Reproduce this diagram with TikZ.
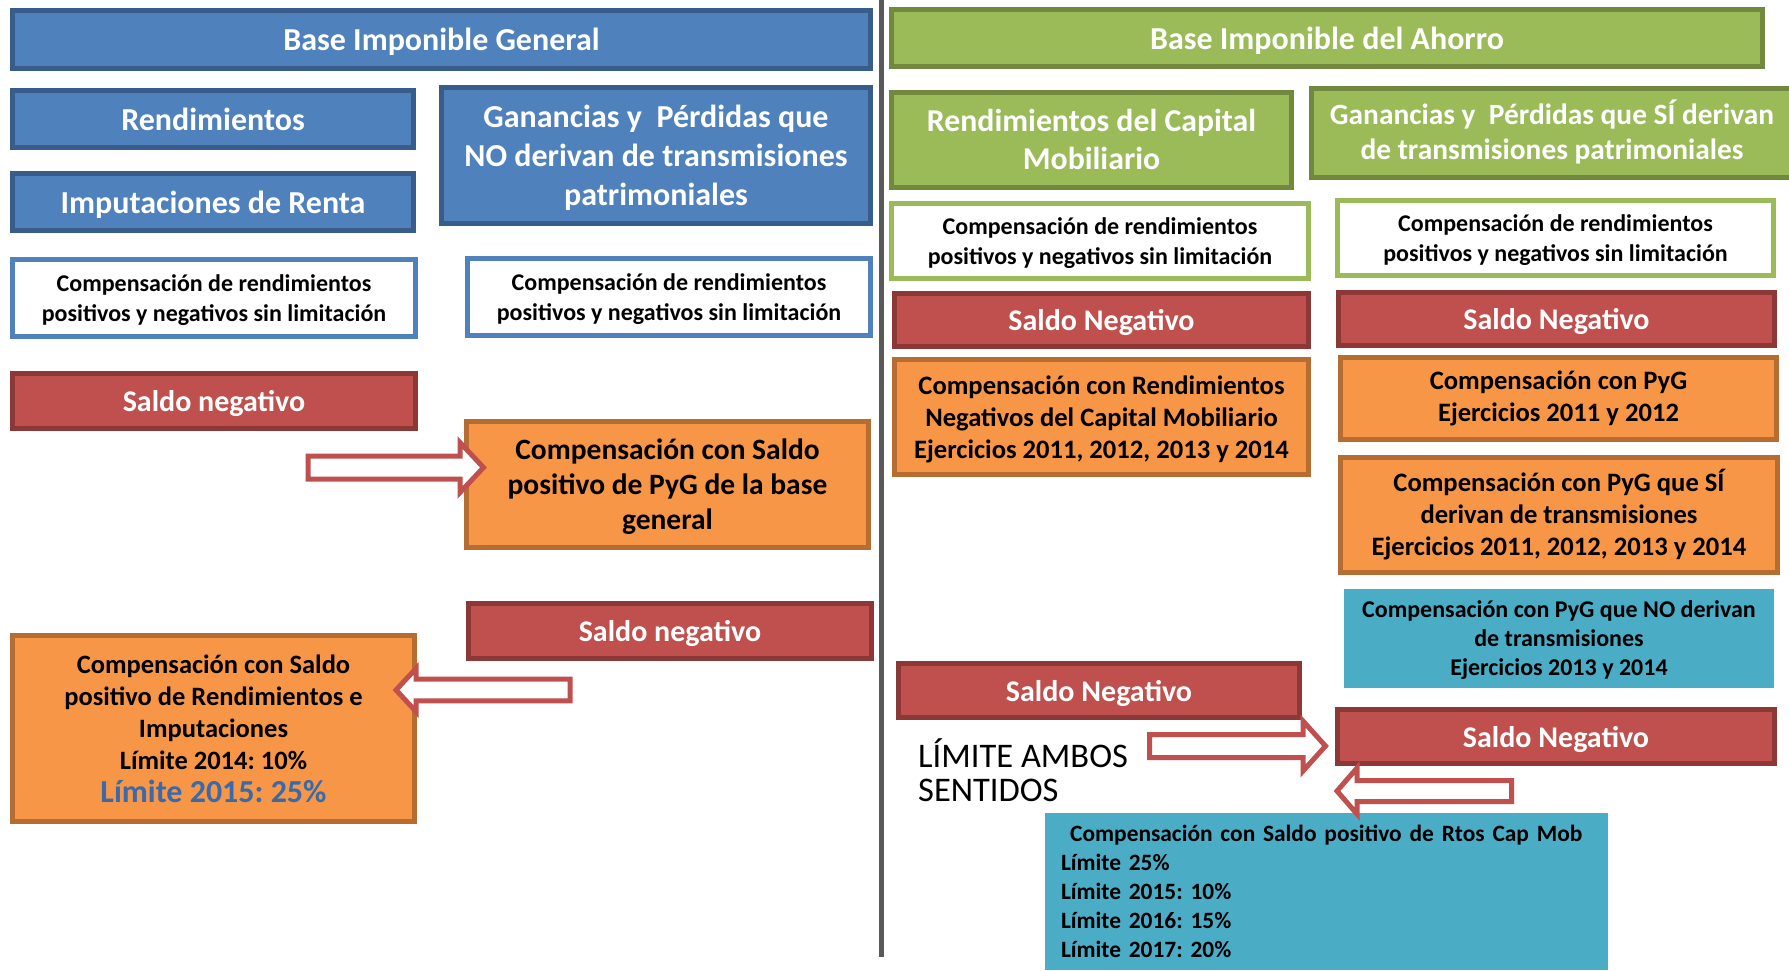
\documentclass[tikz,border=0pt]{standalone}
\usepackage{fontspec}
\setmainfont{Carlito}
\usetikzlibrary{shadows}
\definecolor{cblue}{HTML}{4F81BD}
\definecolor{cblueD}{HTML}{385D8A}
\definecolor{cgreen}{HTML}{9BBB59}
\definecolor{cgreenD}{HTML}{71893F}
\definecolor{cred}{HTML}{C0504D}
\definecolor{credD}{HTML}{8C3836}
\definecolor{corange}{HTML}{F79646}
\definecolor{corangeD}{HTML}{B66D31}
\definecolor{cteal}{HTML}{4BACC6}
\definecolor{csep}{HTML}{595959}
\definecolor{limblue}{RGB}{58,106,168}
\newcommand\fs[2]{\fontsize{#1}{#2}\selectfont}
\frenchspacing
\begin{document}
\begin{tikzpicture}[x=1pt,y=-1pt,
  bxbase/.style={rectangle, line width=5pt, inner sep=0pt, align=center},
  bx/.style={bxbase, text depth=0pt},
  bluebox/.style={bx, fill=cblue, draw=cblueD, text=white},
  greenbox/.style={bx, fill=cgreen, draw=cgreenD, text=white},
  redbox/.style={bx, fill=cred, draw=credD, text=white},
  orangebox/.style={bx, fill=corange, draw=corangeD, text=black},
  wbbox/.style={bx, fill=white, draw=cblue, text=black},
  wgbox/.style={bx, fill=white, draw=cgreen, text=black},
  tealbox/.style={bx, fill=cteal, draw=white, line width=8pt, text=black,
     drop shadow={opacity=0.25, shadow xshift=0pt, shadow yshift=-3pt}},
  tealbig/.style={bxbase, fill=cteal, draw=white, line width=8pt, text=black,
     drop shadow={opacity=0.25, shadow xshift=0pt, shadow yshift=-3pt}},
  blockarrow/.style={draw=cred, fill=white, line width=5pt, line join=miter},
  sepline/.style={draw=csep, line width=5pt},
  big/.style={font=\bfseries\fs{32}{39}},
  comp/.style={font=\bfseries\fs{24}{30}},
  saldo/.style={font=\bfseries\fs{30}{36}},
  ortext/.style={font=\bfseries\fs{26.6}{32}}
]
\useasboundingbox (0,0) rectangle (1789,970);
\clip (0,0) rectangle (1789,970);

% separator
\coordinate (sepTop) at (881.5,0);
\coordinate (sepBot) at (881.5,957);
\draw[sepline] (sepTop) -- (sepBot);

% ---------------- left: Base Imponible General
\node[bluebox, big, minimum width=858, minimum height=58] (bigG) at (441.5,39.5) {Base Imponible General};
\node[bluebox, big, minimum width=401, minimum height=57] (rend) at (213,119) {Rendimientos};
\node[bluebox, big, minimum width=401, minimum height=57] (imput) at (213,202) {Imputaciones de Renta};
\node[bluebox, big, minimum width=429, minimum height=136] (ganNO) at (656,155.5)
  {Ganancias y~ Pérdidas que\\NO derivan de transmisiones\\patrimoniales};
\node[wbbox, comp, minimum width=403, minimum height=77] (compL) at (214,298)
  {Compensación de rendimientos\\positivos y negativos sin limitación};
\node[wbbox, comp, minimum width=403, minimum height=77] (compR) at (669,297)
  {Compensación de rendimientos\\positivos y negativos sin limitación};
\node[redbox, saldo, minimum width=403, minimum height=55] (saldoL) at (214,401) {Saldo negativo};
\node[orangebox, font=\bfseries\fs{29.5}{35}, minimum width=402, minimum height=126] (orPyG) at (667.5,484.5)
  {Compensación con Saldo\\positivo de PyG de la base\\general};
\node[redbox, saldo, minimum width=403, minimum height=55] (saldoR) at (670,631) {Saldo negativo};
\node[orangebox, font=\bfseries\fs{26.5}{32}, minimum width=402, minimum height=186] (orRend) at (213.5,728.5)
  {Compensación con Saldo\\positivo de Rendimientos e\\Imputaciones\\Límite 2014: 10\%\\[1pt]{\color{limblue}\fs{32}{34}Límite 2015: 25\%}};

% ---------------- right: Base Imponible del Ahorro
\node[greenbox, big, minimum width=871, minimum height=57] (bigA) at (1327,38) {Base Imponible del Ahorro};
\node[greenbox, font=\bfseries\fs{31.8}{38}, minimum width=400, minimum height=95] (rcm) at (1091.5,139.5)
  {Rendimientos del Capital\\Mobiliario};
\node[greenbox, font=\bfseries\fs{29.4}{35}, text depth=7.3pt, minimum width=481, minimum height=89] (ganSI) at (1552,133)
  {Ganancias y~ Pérdidas que SÍ derivan\\de transmisiones patrimoniales};
\node[wgbox, comp, minimum width=417, minimum height=75] (compG1) at (1100,241)
  {Compensación de rendimientos\\positivos y negativos sin limitación};
\node[wgbox, comp, minimum width=436, minimum height=75] (compG2) at (1555.5,238)
  {Compensación de rendimientos\\positivos y negativos sin limitación};
\node[redbox, saldo, minimum width=414, minimum height=53] (sn1) at (1101.5,320) {Saldo Negativo};
\node[redbox, saldo, minimum width=436, minimum height=53] (sn2) at (1556.5,319) {Saldo Negativo};
\node[orangebox, ortext, minimum width=414, minimum height=115] (orRCM) at (1101.5,417)
  {Compensación con Rendimientos\\Negativos del Capital Mobiliario\\Ejercicios 2011, 2012, 2013 y 2014};
\node[orangebox, ortext, text depth=5.3pt, minimum width=436, minimum height=82] (orPyG1) at (1558.5,398.5)
  {Compensación con PyG\\Ejercicios 2011 y 2012};
\node[orangebox, ortext, text depth=5.3pt, minimum width=437, minimum height=115] (orPyGSI) at (1559,515)
  {Compensación con PyG que SÍ\\derivan de transmisiones\\Ejercicios 2011, 2012, 2013 y 2014};
\node[tealbox, font=\bfseries\fs{24}{29}, minimum width=438, minimum height=107] (tealNO) at (1559,638.5)
  {Compensación con PyG que NO derivan\\de transmisiones\\Ejercicios 2013 y 2014};
\node[redbox, saldo, minimum width=401, minimum height=54] (sn3) at (1099,690.5) {Saldo Negativo};
\node[redbox, saldo, minimum width=437, minimum height=54] (sn4) at (1556,736.5) {Saldo Negativo};
\node[tealbig, font=\bfseries\fs{23.4}{29}, minimum width=571.5, minimum height=165, text width=530.5, align=left] (tealBig) at (1326.25,891.5)
  {\makebox[\linewidth][c]{Compensación con Saldo positivo de Rtos Cap Mob}\\Límite 25\%\\Límite 2015: 10\%\\Límite 2016: 15\%\\Límite 2017: 20\%};
\node[anchor=north west, inner sep=0pt, align=left, font=\fs{34.5}{34}] (ambos) at (918,738)
  {LÍMITE AMBOS\\SENTIDOS};

% ---------------- block arrows
\draw[blockarrow] (308,456) -- (460,456) -- (460,442.5) -- (483.5,467.5) -- (460,492.5) -- (460,479) -- (308,479) -- cycle;
\draw[blockarrow] (570,679.2) -- (416,679.2) -- (416,668.5) -- (396,690) -- (416,711.5) -- (416,700.8) -- (570,700.8) -- cycle;
\draw[blockarrow] (1149.5,734.5) -- (1303,734.5) -- (1303,721) -- (1325.5,746) -- (1303,771) -- (1303,757.5) -- (1149.5,757.5) -- cycle;
\draw[blockarrow] (1511.5,780.5) -- (1357,780.5) -- (1357,768) -- (1337,791) -- (1357,814) -- (1357,801.5) -- (1511.5,801.5) -- cycle;
\end{tikzpicture}
\end{document}
